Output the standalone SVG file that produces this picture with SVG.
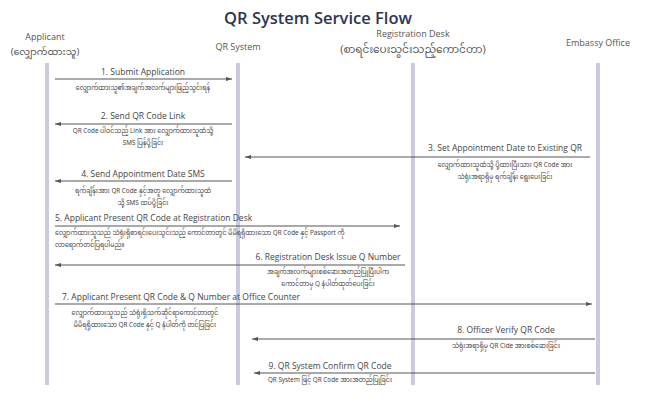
<svg xmlns="http://www.w3.org/2000/svg" width="650" height="407" viewBox="0 0 650 407">
<style>
.title{font-family:"Open Sans","Liberation Sans",sans-serif;font-size:16.5px;font-weight:600;fill:#2c3552;text-anchor:middle}
.hd{font-family:"Open Sans","Liberation Sans",sans-serif;font-size:9px;fill:#555;text-anchor:middle}
.hdm{font-family:"Noto Sans Myanmar","Padauk","Myanmar Text","Noto Sans",sans-serif;font-size:9.5px;fill:#555;text-anchor:middle}
.lbl{font-family:"Open Sans","Liberation Sans",sans-serif;font-size:8.5px;fill:#444}
.my{font-family:"Noto Sans Myanmar","Padauk","Myanmar Text","Noto Sans",sans-serif;font-size:6.3px;fill:#444}
.mid{text-anchor:middle}
.life{stroke:#cacadf;stroke-width:4}
.msg{stroke:#555;stroke-width:1;fill:none;marker-end:url(#ah)}
</style>
<defs>
<marker id="ah" markerWidth="6" markerHeight="4" refX="6" refY="2" orient="auto" markerUnits="userSpaceOnUse">
<path d="M0,0 L6,2 L0,4 Z" fill="#555"/>
</marker>
</defs>
<rect width="650" height="407" fill="#fff"/>
<text class="title" x="318" y="24">QR System Service Flow</text>

<g id="applicant">
<text class="hd" x="45" y="40">Applicant</text>
<text class="hdm" x="45" y="55">(လျှောက်ထားသူ)</text>
<line class="life" x1="47" y1="63" x2="47" y2="385"/>
</g>
<g id="qrsystem">
<text class="hd" x="238" y="50">QR System</text>
<line class="life" x1="238" y1="63" x2="238" y2="385"/>
</g>
<g id="regdesk">
<text class="hd" x="413" y="37">Registration Desk</text>
<text class="hdm" x="413" y="53" style="font-size:10.5px">(စာရင်းပေးသွင်းသည့်ကောင်တာ)</text>
<line class="life" x1="413" y1="63" x2="413" y2="385"/>
</g>
<g id="embassy">
<text class="hd" x="598" y="46">Embassy Office</text>
<line class="life" x1="598" y1="63" x2="598" y2="385"/>
</g>

<g id="connectors">
<line class="msg" x1="55" y1="79" x2="232" y2="79"/>
<line class="msg" x1="232" y1="124" x2="55" y2="124"/>
<line class="msg" x1="590" y1="157" x2="245" y2="157"/>
<line class="msg" x1="232" y1="181" x2="55" y2="181"/>
<line class="msg" x1="55" y1="226" x2="400" y2="226"/>
<line class="msg" x1="405" y1="265" x2="55" y2="265"/>
<line class="msg" x1="55" y1="304" x2="592" y2="304"/>
<line class="msg" x1="595" y1="339" x2="252" y2="339"/>
<line class="msg" x1="595" y1="373" x2="254" y2="373"/>
</g>

<g id="labels">
<text class="lbl mid" x="143" y="75">1. Submit Application</text>
<text class="my mid" x="143" y="90">လျှောက်ထားသူ၏အချက်အလက်များဖြည့်သွင်းရန်</text>

<text class="lbl mid" x="143" y="119">2. Send QR Code Link</text>
<text class="my mid" x="143" y="133">QR Code ပါဝင်သည့် Link အား လျှောက်ထားသူထံသို့</text>
<text class="my mid" x="143" y="145">SMS ပြန်ပို့ခြင်း</text>

<text class="lbl mid" x="505" y="151">3. Set Appointment Date to Existing QR</text>
<text class="my mid" x="505" y="167">လျှောက်ထားသူထံသို့ ပို့ထားပြီးသား QR Code အား</text>
<text class="my mid" x="505" y="179">သံရုံးအရာရှိမှ ရက်ချိန်း ရွေးပေးခြင်း</text>

<text class="lbl mid" x="143" y="177">4. Send Appointment Date SMS</text>
<text class="my mid" x="143" y="193">ရက်ချိန်းအား QR Code နှင့်အတူ လျှောက်ထားသူထံ</text>
<text class="my mid" x="143" y="205">သို့ SMS ထပ်ပို့ခြင်း</text>

<text class="lbl" x="55" y="221">5. Applicant Present QR Code at Registration Desk</text>
<text class="my" x="55" y="235">လျှောက်ထားသူသည် သံရုံးရှိစာရင်းပေးသွင်းသည့် ကောင်တာတွင် မိမိရရှိထားသော QR Code နှင့် Passport ကို</text>
<text class="my" x="55" y="247">လာရောက်တင်ပြရပါမည်။</text>

<text class="lbl mid" x="328" y="260">6. Registration Desk Issue Q Number</text>
<text class="my mid" x="328" y="274">အချက်အလက်များစစ်ဆေးအတည်ပြုပြီးပါက</text>
<text class="my mid" x="328" y="286">ကောင်တာမှ Q နံပါတ်ထုတ်ပေးခြင်း</text>

<text class="lbl" x="62" y="300">7. Applicant Present QR Code &amp; Q Number at Office Counter</text>
<text class="my mid" x="145" y="315">လျှောက်ထားသူသည် သံရုံးရှိသက်ဆိုင်ရာကောင်တာတွင်</text>
<text class="my mid" x="145" y="327">မိမိရရှိထားသော QR Code နှင့် Q နံပါတ်ကို တင်ပြခြင်း</text>

<text class="lbl mid" x="506" y="333">8. Officer Verify QR Code</text>
<text class="my mid" x="506" y="348">သံရုံးအရာရှိမှ QR Cide အားစစ်ဆေးခြင်း</text>

<text class="lbl mid" x="330" y="369">9. QR System Confirm QR Code</text>
<text class="my mid" x="330" y="382">QR System ဖြင့် QR Code အားအတည်ပြုခြင်း</text>
</g>
</svg>
